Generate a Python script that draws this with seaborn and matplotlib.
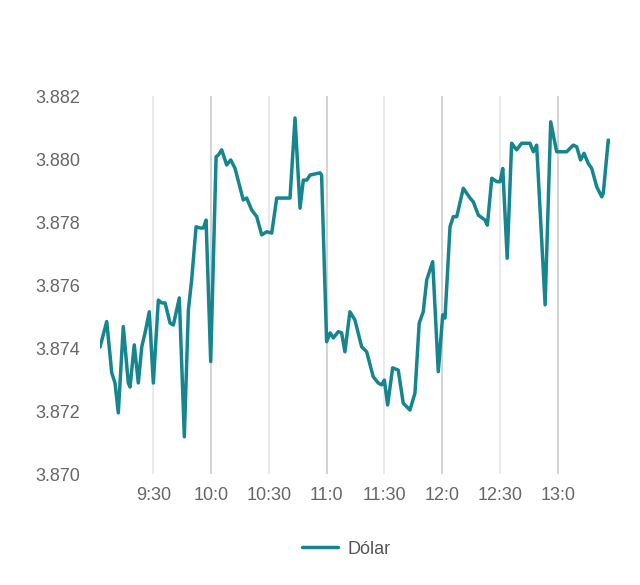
import matplotlib
matplotlib.use("Agg")
import matplotlib.pyplot as plt
import seaborn as sns
import pandas as pd

# minutes after 9:00
minutes = [2.3, 5.8, 8.4, 10.1, 11.8, 14.4, 17.0, 17.9, 20.1, 22.2, 24.0, 25.7, 27.9, 30.0,
           32.6, 34.4, 36.1, 38.7, 40.4, 43.5, 46.1, 48.2, 49.9, 52.2, 54.3, 56.0, 57.4, 59.8,
           62.6, 63.8, 65.5, 68.1, 70.2, 72.4, 76.7, 78.5, 81.1, 83.7, 86.3, 88.9, 91.5, 94.1,
           101.0, 103.6, 106.2, 107.9, 109.7, 111.4, 116.6, 117.4, 120.0, 121.8, 123.5, 126.1,
           127.8, 129.5, 132.1, 134.7, 138.2, 140.8, 144.2, 146.8, 148.6, 150.0, 151.7, 154.3,
           157.2, 159.8, 163.3, 165.9, 168.1, 170.2, 172.0, 175.1, 178.0, 180.3, 181.5, 184.1,
           185.8, 187.6, 191.0, 194.5, 196.2, 198.8, 202.3, 203.5, 205.8, 208.4, 210.1, 211.5,
           213.8, 216.1, 218.7, 221.3, 225.6, 227.4, 229.1, 233.5, 236.4, 239.5, 244.7, 248.1,
           249.9, 251.9, 253.7, 255.9, 257.7, 260.3, 262.9, 263.7, 266.3, 267.2]
dolar = [3.87403, 3.87484, 3.87321, 3.87289, 3.87194, 3.87468, 3.87289, 3.87276, 3.87410,
         3.87289, 3.87404, 3.87448, 3.87515, 3.87289, 3.87552, 3.87543, 3.87543, 3.87479,
         3.87473, 3.87559, 3.87118, 3.87521, 3.87616, 3.87785, 3.87781, 3.87781, 3.87806,
         3.87357, 3.88007, 3.88013, 3.88029, 3.87981, 3.87997, 3.87971, 3.87870, 3.87876,
         3.87838, 3.87817, 3.87759, 3.87769, 3.87765, 3.87876, 3.87876, 3.88130, 3.87844,
         3.87933, 3.87933, 3.87949, 3.87956, 3.87949, 3.87420, 3.87448, 3.87432, 3.87452,
         3.87448, 3.87388, 3.87515, 3.87489, 3.87404, 3.87388, 3.87309, 3.87289, 3.87283,
         3.87298, 3.87219, 3.87337, 3.87330, 3.87225, 3.87203, 3.87257, 3.87479, 3.87515,
         3.87616, 3.87674, 3.87325, 3.87505, 3.87495, 3.87785, 3.87817, 3.87817, 3.87907,
         3.87876, 3.87864, 3.87822, 3.87806, 3.87790, 3.87939, 3.87928, 3.87928, 3.87970,
         3.87685, 3.88050, 3.88029, 3.88050, 3.88050, 3.88023, 3.88044, 3.87537, 3.88118,
         3.88023, 3.88023, 3.88044, 3.88039, 3.87997, 3.88018, 3.87986, 3.87970, 3.87912,
         3.87880, 3.87891, 3.88060, 3.88055]

tick_minutes = [30, 60, 90, 120, 150, 180, 210, 240]
tick_labels = ["9:30", "10:0", "10:30", "11:0", "11:30", "12:0", "12:30", "13:0"]
y_ticks = [3.870, 3.872, 3.874, 3.876, 3.878, 3.880, 3.882]

sns.set_style("white")
plt.rcParams['font.family'] = ['Liberation Sans', 'DejaVu Sans']

df = pd.DataFrame({"t": minutes, "Dólar": dolar})

fig = plt.figure(figsize=(6.4, 5.85), dpi=100)
ax = fig.add_axes([100/640, 1-474/585, 510/640, 378/585])

for tm in tick_minutes:
    hour = tm % 60 == 0
    ax.axvline(tm, color="#cccccc" if hour else "#e6e6e6", lw=1.2, zorder=0)

sns.lineplot(data=df, x="t", y="Dólar", ax=ax, color="#15858f", lw=2.5,
             label="Dólar", solid_joinstyle="round", solid_capstyle="round")

ax.set_xlim(minutes[0], minutes[-1])
ax.set_ylim(3.870, 3.882)
ax.set_xticks(tick_minutes)
ax.set_xticklabels(tick_labels)
ax.set_yticks(y_ticks)
ax.set_yticklabels([f"{v:.3f}" for v in y_ticks])
ax.tick_params(axis="both", length=0, labelsize=13, labelcolor="#666666")
ax.tick_params(axis="y", pad=14)
ax.tick_params(axis="x", pad=9)
ax.set_xlabel("")
ax.set_ylabel("")
for s in ax.spines.values():
    s.set_visible(False)

leg = ax.legend(loc="center", bbox_to_anchor=(346/640, 1-549/585),
                bbox_transform=fig.transFigure, frameon=False, fontsize=13,
                handlelength=2.0, handletextpad=0.5)
for txt in leg.get_texts():
    txt.set_color("#555555")

fig.savefig("out.png", dpi=100)
